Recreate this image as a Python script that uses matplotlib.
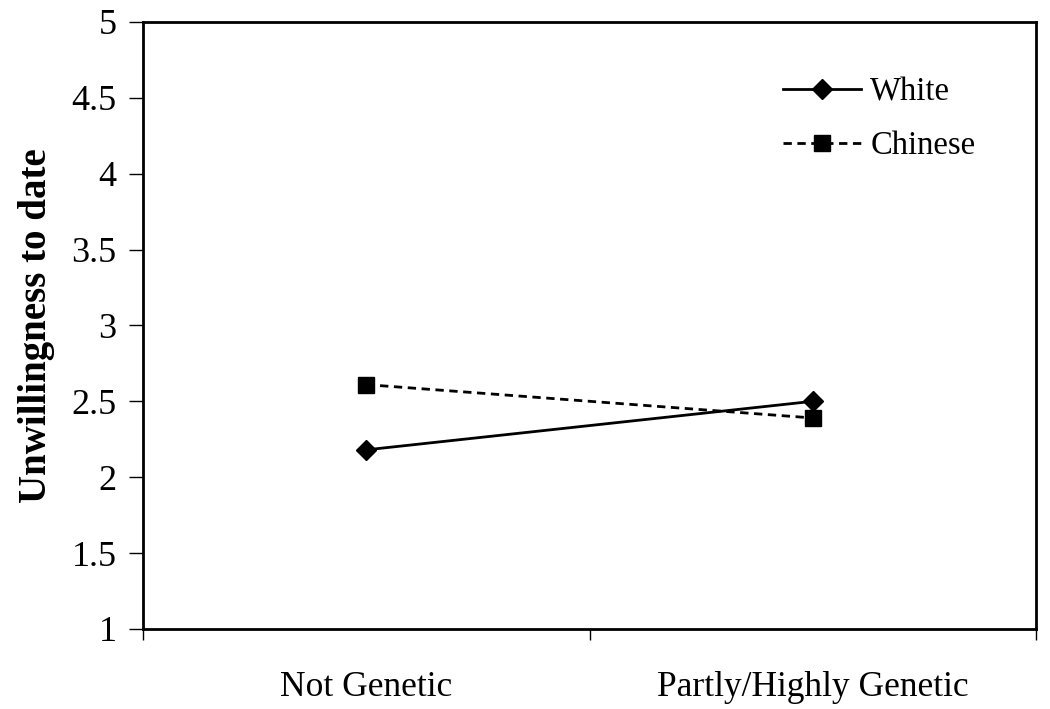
import matplotlib
matplotlib.use("Agg")
import matplotlib.pyplot as plt

categories = ["Not Genetic", "Partly/Highly Genetic"]
white = [2.18, 2.50]
chinese = [2.61, 2.39]
yticks = [1, 1.5, 2, 2.5, 3, 3.5, 4, 4.5, 5]
ytick_labels = ["1", "1.5", "2", "2.5", "3", "3.5", "4", "4.5", "5"]

plt.rcParams['font.family'] = ['Liberation Serif', 'DejaVu Serif']

fig = plt.figure(figsize=(10.5, 7.09), dpi=100)
ax = fig.add_axes([0.136, 0.113, 0.851, 0.856])

xpos = [i + 0.5 for i in range(len(categories))]
ax.plot(xpos, white, color='black', linestyle='-', linewidth=2.0,
        marker='D', markersize=10, label='White')
ax.plot(xpos, chinese, color='black', linestyle=(0, (3, 2)), linewidth=2.0,
        marker='s', markersize=11, label='Chinese')

ax.set_xlim(0, len(categories))
ax.set_ylim(1, 5)
ax.set_yticks(yticks)
ax.set_yticklabels(ytick_labels, fontsize=26)
ax.set_xticks(range(len(categories) + 1))
ax.set_xticklabels([])
ax.set_xticks(xpos, minor=True)
ax.set_xticklabels(categories, minor=True, fontsize=25.5)
ax.tick_params(axis='x', which='minor', length=0, pad=30)
ax.tick_params(axis='x', which='major', length=8, width=1, direction='out')
ax.tick_params(axis='y', length=10, width=1, direction='out', pad=9)
for s in ax.spines.values():
    s.set_linewidth(2)

ax.set_ylabel("Unwillingness to date", fontsize=28, fontweight='bold', labelpad=12)

leg = ax.legend(loc='upper left', bbox_to_anchor=(0.717, 0.91), frameon=False,
                fontsize=23.5, handlelength=2.36, labelspacing=0.72, handletextpad=0.3,
                borderpad=0, borderaxespad=0)

fig.savefig("out.png", dpi=100)
